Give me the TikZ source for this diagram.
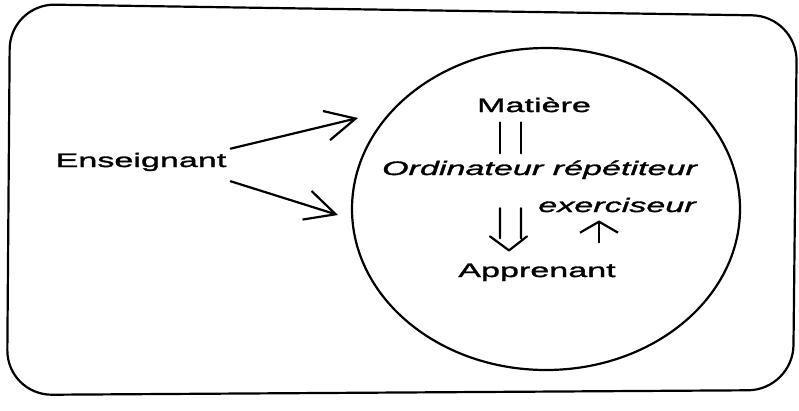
\documentclass[tikz,border=0pt]{standalone}
\usepackage{fontspec}
\usetikzlibrary{shapes.geometric,arrows.meta,calc}
\newfontfamily\widesans[FakeStretch=1.75,FakeBold=1.6]{Liberation Sans}

\begin{document}
\begin{tikzpicture}[x=1pt,y=-1pt,
  ln/.style={line width=2.2pt, line cap=round, line join=round},
  lbl/.style={inner sep=0pt, anchor=base, font=\widesans\fontsize{19.5pt}{23pt}\selectfont},
  barb/.style={-{Straight Barb[length=30pt,width=30pt,line width=2.2pt]}}
]
\useasboundingbox (0,0) rectangle (799,410);

% outer frame
\draw[ln, rounded corners=45pt] (10,4) -- (797,16) -- (793,390) -- (7,395) -- cycle;

% circle around the learning system
\node[ln, draw, ellipse, minimum width=388pt, minimum height=322pt, inner sep=0pt] (circ) at (546,209) {};

% labels
\node[lbl] (ens) at (141,167) {Enseignant};
\node[lbl] (mat) at (534,112) {Matière};
\node[lbl, font=\widesans\itshape\fontsize{19.5pt}{23pt}\selectfont] (ord) at (539.5,175) {Ordinateur répétiteur};
\node[lbl, font=\widesans\itshape\fontsize{19.5pt}{23pt}\selectfont] (ex) at (617,212) {exerciseur};
\node[lbl] (app) at (537,277) {Apprenant};

% teacher acts on the system
\coordinate (t1) at (358,118);
\coordinate (t2) at (338,215);
\draw[ln, barb] ([xshift=4pt,yshift=4pt]ens.north east) -- (t1);
\draw[ln, barb] ([xshift=4pt,yshift=-10pt]ens.south east) -- (t2);

% Matière || Ordinateur
\coordinate (m1) at ($(mat.south)+(-34,10)$);
\coordinate (m2) at ($(mat.south)+(-13,10)$);
\draw[ln] (m1) -- ++(0,31) (m2) -- ++(0,31);

% Ordinateur => Apprenant (hollow double arrow)
\coordinate (d1) at ($(ord.south)+(-39.5,29)$);
\coordinate (d2) at ($(ord.south)+(-18.5,29)$);
\coordinate (dt) at ($(app.north)+(-28,-13)$);
\draw[ln] (d1) -- ++(0,30) (d2) -- ++(0,30)
  ($(dt)+(-19,-14)$) -- (dt) -- ($(dt)+(18,-14)$);

% Apprenant -> exerciseur
\draw[ln, -{Straight Barb[length=11pt,width=38pt,line width=2.2pt]}]
  ($(ex.south)+(-18,30)$) -- ($(ex.south)+(-18,8)$);
\end{tikzpicture}
\end{document}
